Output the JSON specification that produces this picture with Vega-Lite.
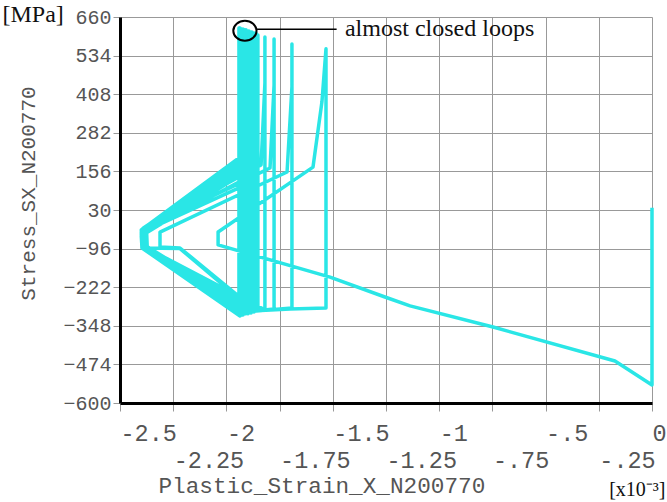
{
  "$schema": "https://vega.github.io/schema/vega-lite/v6.json",
  "autosize": "none",
  "width": 532,
  "height": 386,
  "padding": {"left": 120, "top": 17, "right": 15, "bottom": 99},
  "background": "white",
  "config": {"view": {"stroke": null}},
  "layer": [
    {
      "data": {"values": [
        {"i":0,"x":0,"y":37},{"i":1,"x":0,"y":-541},{"i":2,"x":-0.174,"y":-463},{"i":3,"x":-0.747,"y":-352},
        {"i":4,"x":-1.137,"y":-283},{"i":5,"x":-1.255,"y":-254},{"i":6,"x":-1.513,"y":-189},{"i":7,"x":-2.039,"y":-84},
        {"i":8,"x":-2.039,"y":-42},{"i":9,"x":-1.593,"y":170},{"i":10,"x":-1.551,"y":383},{"i":11,"x":-1.532,"y":556},
        {"i":12,"x":-1.532,"y":-290},{"i":13,"x":-1.70,"y":-293},{"i":14,"x":-1.86,"y":-299},{"i":15,"x":-1.93,"y":-258},
        {"i":16,"x":-2.218,"y":-94},{"i":17,"x":-2.312,"y":-91},{"i":18,"x":-2.312,"y":-42},{"i":19,"x":-1.715,"y":154},
        {"i":20,"x":-1.692,"y":432},{"i":21,"x":-1.692,"y":572},{"i":22,"x":-1.692,"y":-290},{"i":23,"x":-1.86,"y":-300},
        {"i":24,"x":-2.387,"y":-94},{"i":25,"x":-2.397,"y":-35},{"i":26,"x":-1.795,"y":167},{"i":27,"x":-1.776,"y":438},
        {"i":28,"x":-1.776,"y":588},{"i":29,"x":-1.776,"y":-293},{"i":30,"x":-1.87,"y":-300},{"i":31,"x":-2.218,"y":-96},
        {"i":32,"x":-2.392,"y":-94},{"i":33,"x":-2.392,"y":-33},{"i":34,"x":-1.837,"y":177},{"i":35,"x":-1.819,"y":445},
        {"i":36,"x":-1.819,"y":595},{"i":37,"x":-1.819,"y":-296},{"i":38,"x":-2.383,"y":-91},{"i":39,"x":-2.390,"y":-30},
        {"i":40,"x":-1.856,"y":144},{"i":41,"x":-1.852,"y":601},{"i":42,"x":-1.852,"y":-299},
        {"i":43,"x":-2.387,"y":-92},{"i":44,"x":-2.387,"y":-40},{"i":45,"x":-1.861,"y":128},{"i":46,"x":-1.861,"y":608},{"i":47,"x":-1.861,"y":-300},
        {"i":48,"x":-2.392,"y":-90},{"i":49,"x":-2.392,"y":-30},{"i":50,"x":-1.870,"y":177},{"i":51,"x":-1.870,"y":608},{"i":52,"x":-1.870,"y":-303},
        {"i":53,"x":-2.397,"y":-94},{"i":54,"x":-2.397,"y":-48},{"i":55,"x":-1.880,"y":144},{"i":56,"x":-1.880,"y":611},{"i":57,"x":-1.880,"y":-303},
        {"i":58,"x":-2.375,"y":-88},{"i":59,"x":-2.380,"y":-35},{"i":60,"x":-1.884,"y":193},{"i":61,"x":-1.884,"y":611},{"i":62,"x":-1.884,"y":-306},
        {"i":63,"x":-2.397,"y":-92},{"i":64,"x":-2.400,"y":-42},{"i":65,"x":-1.894,"y":161},{"i":66,"x":-1.894,"y":614},{"i":67,"x":-1.894,"y":-306},
        {"i":68,"x":-2.387,"y":-94},{"i":69,"x":-2.390,"y":-29},{"i":70,"x":-1.898,"y":200},{"i":71,"x":-1.898,"y":614},{"i":72,"x":-1.898,"y":-309},
        {"i":73,"x":-2.397,"y":-90},{"i":74,"x":-2.400,"y":-55},{"i":75,"x":-1.908,"y":154},{"i":76,"x":-1.908,"y":618},{"i":77,"x":-1.908,"y":-309},
        {"i":78,"x":-2.372,"y":-92},{"i":79,"x":-2.375,"y":-38},{"i":80,"x":-1.913,"y":187},{"i":81,"x":-1.913,"y":618},{"i":82,"x":-1.913,"y":-309},
        {"i":83,"x":-2.397,"y":-94},{"i":84,"x":-2.400,"y":-45},{"i":85,"x":-1.922,"y":167},{"i":86,"x":-1.922,"y":621},{"i":87,"x":-1.922,"y":-313},
        {"i":88,"x":-2.392,"y":-90},{"i":89,"x":-2.395,"y":-32},{"i":90,"x":-1.927,"y":193},{"i":91,"x":-1.927,"y":621},{"i":92,"x":-1.927,"y":-313},
        {"i":93,"x":-2.397,"y":-92},{"i":94,"x":-2.400,"y":-50},{"i":95,"x":-1.936,"y":177},{"i":96,"x":-1.936,"y":624},{"i":97,"x":-1.936,"y":-316},
        {"i":98,"x":-2.397,"y":-94},{"i":99,"x":-2.400,"y":-35},{"i":100,"x":-1.941,"y":200},{"i":101,"x":-1.941,"y":624},{"i":102,"x":-1.941,"y":-316}
      ]},
      "mark": {"type": "line", "color": "#2ae6e6", "strokeWidth": 3.5, "strokeJoin": "round"},
      "encoding": {
        "x": {
          "field": "x", "type": "quantitative",
          "scale": {"domain": [-2.5, 0], "nice": false, "zero": false},
          "axis": {
            "orient": "bottom",
            "values": [-2.5, -2.25, -2, -1.75, -1.5, -1.25, -1, -0.75, -0.5, -0.25, 0],
            "labelExpr": "replace(toString(datum.value), '-0.', '-.')",
            "labelAlign": "left",
            "labelBaseline": "alphabetic",
            "labelPadding": {"condition": {"test": "round(datum.value * 4) % 2 != 0", "value": 56}, "value": 29},
            "labelFont": "Liberation Mono", "labelFontSize": 23.5, "labelColor": "#555555",
            "labelOverlap": false, "labelFlush": false, "labelBound": false,
            "tickSize": 8, "tickColor": "#999999", "tickWidth": 1,
            "domainColor": "#000000", "domainWidth": 3,
            "grid": true, "gridColor": "#999999", "gridWidth": 1,
            "title": "Plastic_Strain_X_N200770",
            "titleFont": "Liberation Mono", "titleFontSize": 22.7, "titleFontWeight": "normal", "titleColor": "#555555",
            "titleAlign": "left", "titleAnchor": "start", "titleBaseline": "alphabetic", "titleX": 38, "titleY": 89
          }
        },
        "y": {
          "field": "y", "type": "quantitative",
          "scale": {"domain": [-600, 660], "nice": false, "zero": false},
          "axis": {
            "orient": "left",
            "values": [660, 534, 408, 282, 156, 30, -96, -222, -348, -474, -600],
            "labelFont": "Liberation Mono", "labelFontSize": 20, "labelColor": "#555555",
            "labelOverlap": false, "labelFlush": false, "labelBound": false, "labelPadding": 2,
            "tickSize": 7, "tickColor": "#999999", "tickWidth": 1,
            "domainColor": "#000000", "domainWidth": 3,
            "grid": true, "gridColor": "#999999", "gridWidth": 1,
            "title": "Stress_SX_N200770",
            "titleFont": "Liberation Mono", "titleFontSize": 21, "titleFontWeight": "normal", "titleColor": "#555555",
            "titleAngle": 270, "titleAlign": "center", "titleBaseline": "alphabetic", "titleX": -86, "titleY": 176
          }
        },
        "order": {"field": "i", "type": "quantitative"}
      }
    },
    {
      "data": {"values": [{"x": -1.913, "y": 615}]},
      "mark": {"type": "point", "shape": "M -1 0 A 1 0.86 0 1 0 1 0 A 1 0.86 0 1 0 -1 0 Z", "size": 540, "filled": false, "stroke": "#000000", "strokeWidth": 2, "opacity": 1},
      "encoding": {
        "x": {
          "field": "x", "type": "quantitative",
          "scale": {"domain": [-2.5, 0], "nice": false, "zero": false},
          "axis": {
            "orient": "bottom", "labels": false, "ticks": false, "grid": false, "domain": false,
            "title": "[x10⁻³]",
            "titleFont": "Liberation Serif", "titleFontSize": 20, "titleFontWeight": "normal", "titleColor": "#111111",
            "titleAlign": "right", "titleBaseline": "alphabetic", "titleX": 545, "titleY": 92
          }
        },
        "y": {
          "field": "y", "type": "quantitative",
          "scale": {"domain": [-600, 660], "nice": false, "zero": false},
          "axis": {
            "orient": "left", "labels": false, "ticks": false, "grid": false, "domain": false,
            "title": "[MPa]",
            "titleFont": "Liberation Serif", "titleFontSize": 24, "titleFontWeight": "normal", "titleColor": "#111111",
            "titleAngle": 0, "titleAlign": "left", "titleBaseline": "alphabetic", "titleX": -118, "titleY": 4
          }
        }
      }
    },
    {
      "data": {"values": [{"x": -1.856, "x2": -1.482, "y": 620}]},
      "mark": {"type": "rule", "color": "#000000", "strokeWidth": 1.5},
      "encoding": {
        "x": {"field": "x", "type": "quantitative", "scale": {"domain": [-2.5, 0], "nice": false, "zero": false}, "axis": null},
        "x2": {"field": "x2"},
        "y": {"field": "y", "type": "quantitative", "scale": {"domain": [-600, 660], "nice": false, "zero": false}, "axis": null}
      }
    },
    {
      "data": {"values": [{"x": -1.443, "y": 598, "label": "almost closed loops"}]},
      "mark": {"type": "text", "align": "left", "baseline": "alphabetic", "font": "Liberation Serif", "fontSize": 24, "color": "#111111"},
      "encoding": {
        "x": {"field": "x", "type": "quantitative", "scale": {"domain": [-2.5, 0], "nice": false, "zero": false}, "axis": null},
        "y": {"field": "y", "type": "quantitative", "scale": {"domain": [-600, 660], "nice": false, "zero": false}, "axis": null},
        "text": {"field": "label"}
      }
    }
  ],
  "resolve": {"axis": {"x": "independent", "y": "independent"}}
}
